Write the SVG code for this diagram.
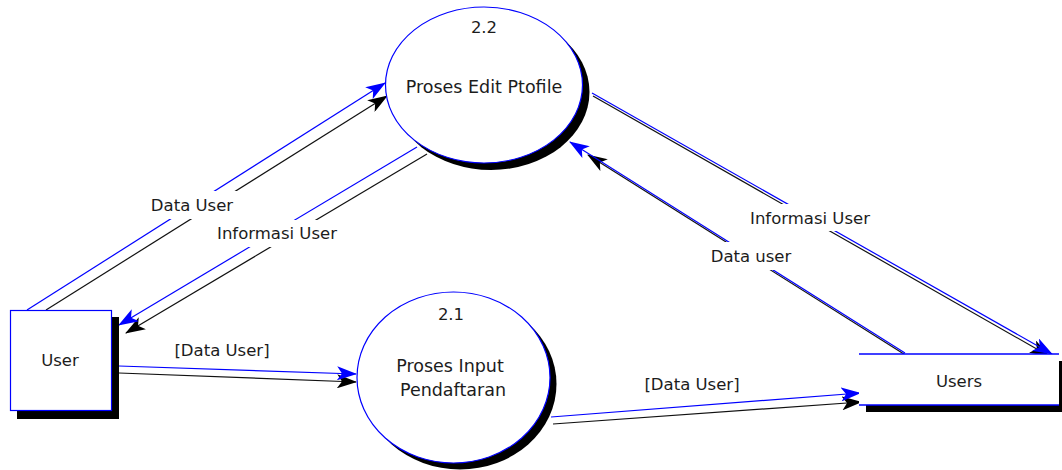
<svg xmlns="http://www.w3.org/2000/svg" width="1062" height="470" viewBox="0 0 1062 470">
  <style>
    .txt { font-family: "DejaVu Sans", Verdana, sans-serif; font-size: 16.5px; fill: #1c1c1c; text-anchor: middle; }
    .ptxt { font-size: 17.5px; }
    .proc { fill: #ffffff; stroke: #0000ff; stroke-width: 1.2; }
    .shadow { fill: #000000; stroke: none; }
    .flow-blue { stroke: #0000ff; stroke-width: 1.2; fill: none; marker-end: url(#arrow-blue); }
    .flow-dark { stroke: #111111; stroke-width: 1.2; fill: none; marker-end: url(#arrow-dark); }
    .lblbg { fill: #ffffff; stroke: none; }
    .edge { stroke: #0000ff; stroke-width: 1.5; }
  </style>
  <defs>
    <marker id="arrow-blue" viewBox="0 0 20 14" refX="19" refY="7" markerWidth="20" markerHeight="14" markerUnits="userSpaceOnUse" orient="auto">
      <path d="M0,0 L20,7 L0,14 L5,7 z" fill="#0000ff"/>
    </marker>
    <marker id="arrow-dark" viewBox="0 0 20 14" refX="19" refY="7" markerWidth="20" markerHeight="14" markerUnits="userSpaceOnUse" orient="auto">
      <path d="M0,0 L20,7 L0,14 L5,7 z" fill="#000000"/>
    </marker>
  </defs>

  <rect width="1062" height="470" fill="#ffffff"/>

  <!-- data flows: each flow is a blue line with a dark twin beside it -->
  <g id="connectors">
    <!-- User -> 2.2 : Data User -->
    <line class="flow-dark" x1="46" y1="310" x2="387" y2="96"/>
    <line class="flow-blue" x1="27" y1="310" x2="385" y2="83"/>
    <!-- 2.2 -> User : Informasi User -->
    <line class="flow-dark" x1="427" y1="154" x2="126" y2="333"/>
    <line class="flow-blue" x1="417" y1="147" x2="119" y2="325"/>
    <!-- User -> 2.1 : [Data User] -->
    <line class="flow-dark" x1="119" y1="373" x2="356" y2="382"/>
    <line class="flow-blue" x1="119" y1="366" x2="356" y2="374"/>
    <!-- 2.1 -> Users : [Data User] -->
    <line class="flow-dark" x1="553" y1="424" x2="861" y2="402"/>
    <line class="flow-blue" x1="551" y1="417" x2="860" y2="393"/>
    <!-- 2.2 -> Users : Informasi User -->
    <line class="flow-dark" x1="593" y1="96" x2="1049" y2="356"/>
    <line class="flow-blue" x1="592" y1="93" x2="1052" y2="354"/>
    <!-- Users -> 2.2 : Data user -->
    <line class="flow-dark" x1="907" y1="356" x2="588" y2="155"/>
    <line class="flow-blue" x1="905" y1="353" x2="570" y2="142"/>

    <!-- flow labels -->
    <rect class="lblbg" x="148" y="191" width="90" height="28"/>
    <text class="txt" x="192" y="211">Data User</text>
    <rect class="lblbg" x="214" y="220" width="127" height="27"/>
    <text class="txt" x="277" y="239">Informasi User</text>
    <text class="txt" x="222" y="356">[Data User]</text>
    <text class="txt" x="692" y="390">[Data User]</text>
    <rect class="lblbg" x="747" y="204" width="126" height="27"/>
    <text class="txt" x="810" y="224">Informasi User</text>
    <rect class="lblbg" x="707" y="242" width="88" height="28"/>
    <text class="txt" x="751" y="262">Data user</text>
  </g>

  <!-- external entity -->
  <g id="user">
    <rect class="shadow" x="17" y="317" width="102" height="102"/>
    <rect class="proc" x="10.5" y="310.5" width="101" height="100"/>
    <text class="txt" x="60" y="366">User</text>
  </g>

  <!-- process 2.2 -->
  <g id="proc-2-2">
    <ellipse class="shadow" cx="491" cy="92" rx="98.5" ry="78"/>
    <ellipse class="proc" cx="484" cy="85" rx="98.5" ry="78"/>
    <text class="txt" x="484" y="33">2.2</text>
    <text class="txt ptxt" x="484" y="93">Proses Edit Ptofile</text>
  </g>

  <!-- process 2.1 -->
  <g id="proc-2-1">
    <ellipse class="shadow" cx="460" cy="384" rx="96.5" ry="85.5"/>
    <ellipse class="proc" cx="453.5" cy="377.5" rx="96.5" ry="85.5"/>
    <text class="txt" x="451" y="320">2.1</text>
    <text class="txt ptxt" x="450" y="372">Proses Input</text>
    <text class="txt ptxt" x="453" y="396">Pendaftaran</text>
  </g>

  <!-- data store -->
  <g id="users">
    <rect class="shadow" x="866" y="361" width="200" height="51"/>
    <rect x="859" y="354" width="200" height="51" fill="#ffffff"/>
    <line class="edge" x1="859" y1="354" x2="1059" y2="354"/>
    <line class="edge" x1="859" y1="405" x2="1059" y2="405"/>
    <text class="txt" x="959" y="387">Users</text>
  </g>
</svg>
